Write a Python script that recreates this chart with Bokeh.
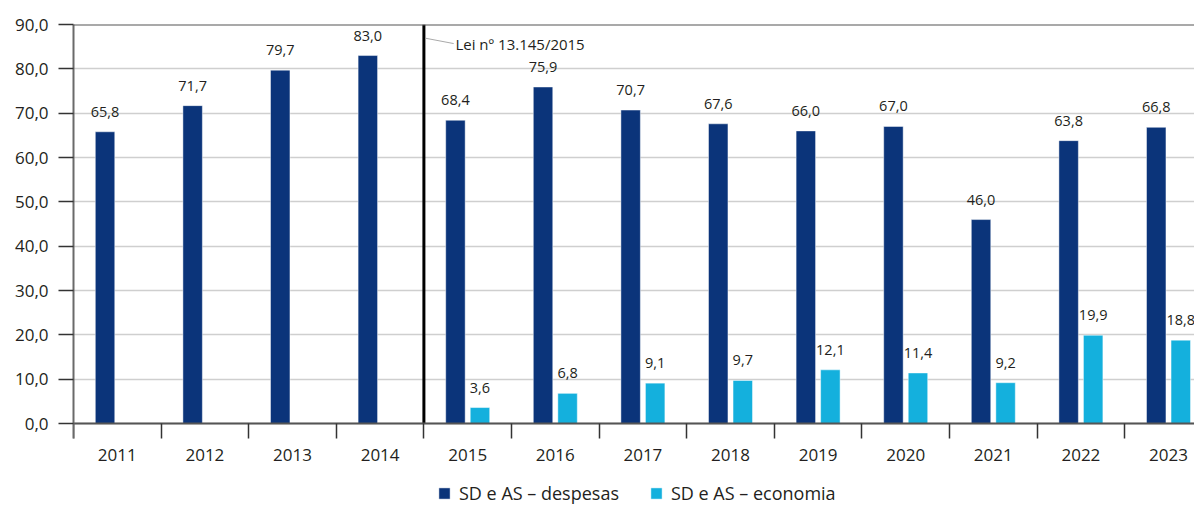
from bokeh.plotting import figure
from bokeh.models import (Range1d, FixedTicker, Span, Legend, LegendItem,
                          ColumnDataSource, LabelSet, Label)
from bokeh.core.properties import value
from bokeh.embed import file_html
from bokeh.resources import INLINE

years = ["2011", "2012", "2013", "2014", "2015", "2016", "2017",
         "2018", "2019", "2020", "2021", "2022", "2023"]
despesas = [65.8, 71.7, 79.7, 83.0, 68.4, 75.9, 70.7, 67.6, 66.0, 67.0, 46.0, 63.8, 66.8]
economia = [None, None, None, None, 3.6, 6.8, 9.1, 9.7, 12.1, 11.4, 9.2, 19.9, 18.8]
y_ticks = [0, 10, 20, 30, 40, 50, 60, 70, 80, 90]
y_tick_labels = ["0,0", "10,0", "20,0", "30,0", "40,0", "50,0", "60,0", "70,0", "80,0", "90,0"]
series_names = ["SD e AS \u2013 despesas", "SD e AS \u2013 economia"]
annotation_text = "Lei n\u00ba 13.145/2015"
law_year_index = 4

DARK = "#0b347a"
LIGHT = "#14b0dd"
TXT = "#231f20"
FONT = "Open Sans"

W, H = 1194, 505
TOP, LEFT = 24, 73
PX_PER_UNIT = 399 / 90.0
CAT_PX = 87.6
y_min = -(H - (TOP + 399)) / PX_PER_UNIT


def fmt(v):
    return f"{v:.1f}".replace(".", ",")


n = len(years)
centers = [i + 0.5 for i in range(n)]
off = 0.14
bw = 0.222

src_d = ColumnDataSource(dict(x=[c - off for c in centers], top=despesas,
                              lab=[fmt(v) for v in despesas]))
e_idx = [i for i, v in enumerate(economia) if v is not None]
src_e = ColumnDataSource(dict(x=[centers[i] + off for i in e_idx],
                              top=[economia[i] for i in e_idx],
                              lab=[fmt(economia[i]) for i in e_idx]))

p = figure(width=W, height=H, output_backend="svg", toolbar_location=None,
           x_range=Range1d(0, (W - LEFT) / CAT_PX), y_range=Range1d(y_min, 90),
           min_border_left=LEFT, min_border_right=0, min_border_top=TOP,
           min_border_bottom=0)
p.outline_line_color = None
p.background_fill_color = "white"
p.border_fill_color = "white"

# grid
p.xgrid.grid_line_color = None
p.ygrid.grid_line_color = "#cfcfcf"
p.ygrid.grid_line_width = 1.5
p.ygrid.ticker = FixedTicker(ticks=y_ticks)

# y axis
p.yaxis.ticker = FixedTicker(ticks=y_ticks)
p.yaxis.bounds = (-15 / PX_PER_UNIT, 90)
p.yaxis.major_label_overrides = {t: l for t, l in zip(y_ticks, y_tick_labels)}
p.yaxis.axis_line_color = "#6a6a6a"
p.yaxis.axis_line_width = 2
p.yaxis.major_tick_line_color = "#333333"
p.yaxis.major_tick_line_width = 1.5
p.yaxis.major_tick_out = 15
p.yaxis.major_tick_in = 0
p.yaxis.minor_tick_line_color = None
p.yaxis.major_label_standoff = 10
p.yaxis.major_label_text_font = FONT
p.yaxis.major_label_text_font_size = "17px"
p.yaxis.major_label_text_color = TXT

# x axis drawn at y = 0
p.xaxis.fixed_location = 0
p.xaxis.ticker = FixedTicker(ticks=centers, minor_ticks=list(range(n + 1)))
p.xaxis.major_label_overrides = {c: y for c, y in zip(centers, years)}
p.xaxis.axis_line_color = "#555555"
p.xaxis.axis_line_width = 2
p.xaxis.major_tick_line_color = None
p.xaxis.major_tick_out = 0
p.xaxis.major_tick_in = 0
p.xaxis.minor_tick_line_color = "#333333"
p.xaxis.minor_tick_line_width = 1.5
p.xaxis.minor_tick_out = 15
p.xaxis.minor_tick_in = 0
p.xaxis.major_label_standoff = 10
p.xaxis.major_label_text_font = FONT
p.xaxis.major_label_text_font_size = "17px"
p.xaxis.major_label_text_color = TXT

# top line at 90
p.add_layout(Span(location=90, dimension="width", line_color="#555555", line_width=2))

rd = p.vbar(x="x", top="top", width=bw, bottom=0, source=src_d, fill_color=DARK,
            line_color="white", line_alpha=0.45, line_width=1)
re_ = p.vbar(x="x", top="top", width=bw, bottom=0, source=src_e, fill_color=LIGHT,
             line_color="white", line_alpha=0.45, line_width=1)

for s in (src_d, src_e):
    p.add_layout(LabelSet(x="x", y="top", text="lab", source=s, text_align="center",
                          text_baseline="alphabetic", y_offset=15,
                          text_font=value(FONT), text_font_size="14.5px", text_color=TXT))

# law line
p.segment(x0=[law_year_index], y0=[0], x1=[law_year_index], y1=[90],
          line_color="black", line_width=3)
p.segment(x0=[law_year_index + 0.02], y0=[86.9], x1=[law_year_index + 0.34], y1=[85.7],
          line_color="#aaaaaa", line_width=1)
p.add_layout(Label(x=law_year_index + 0.36, y=85.7, text=annotation_text,
                   text_baseline="middle", text_align="left", text_font=FONT,
                   text_font_size="15px", text_color=TXT))

legend = Legend(items=[LegendItem(label=series_names[0], renderers=[rd]),
                       LegendItem(label=series_names[1], renderers=[re_])],
                orientation="horizontal", location=(364, 0),
                border_line_color=None, background_fill_alpha=0,
                glyph_width=14, glyph_height=14, label_standoff=8, spacing=30,
                padding=2, margin=0,
                label_text_font=FONT, label_text_font_size="18px",
                label_text_color=TXT)
p.add_layout(legend, "center")

open("out.html", "w").write(file_html(p, INLINE))
